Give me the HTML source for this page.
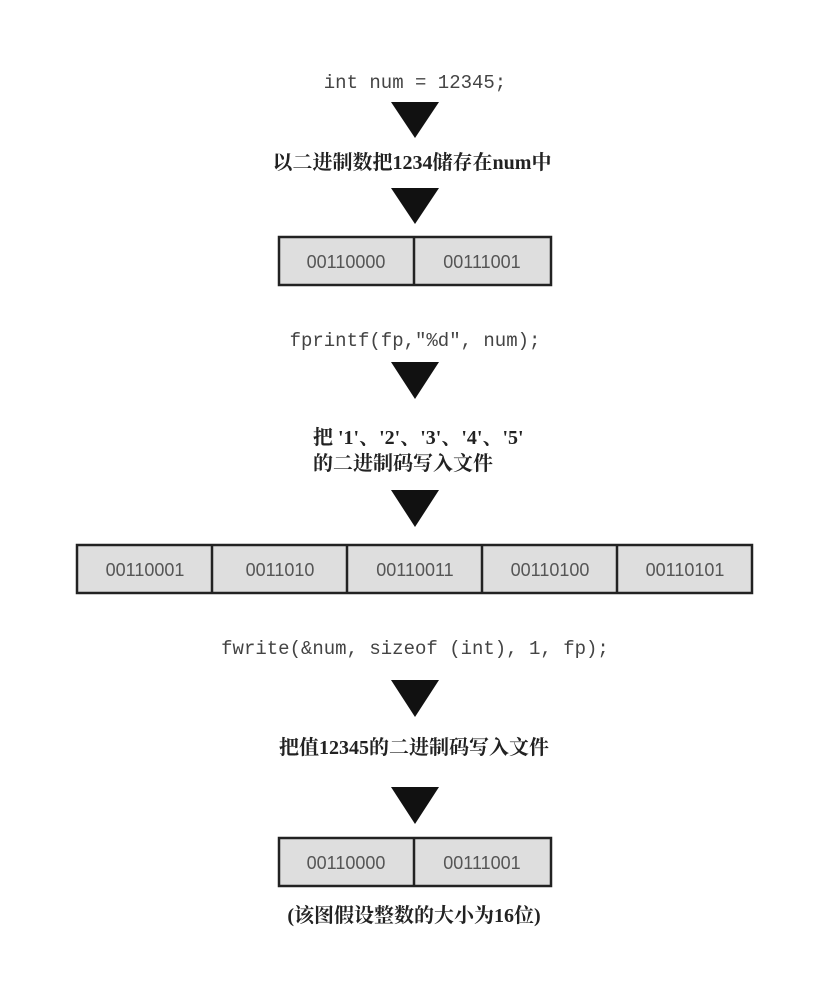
<!DOCTYPE html>
<html><head><meta charset="utf-8"><style>
html,body{margin:0;padding:0;background:#fff;}
svg{display:block;}
.m{font-family:"Liberation Mono",monospace;font-size:19px;fill:#444;}
.c{font-family:"Liberation Serif","Noto Serif CJK SC",serif;font-size:20px;font-weight:bold;fill:#222;}
.b{font-family:"Liberation Sans",sans-serif;font-size:18px;fill:#555;}
.box{fill:#dedede;stroke:#222;stroke-width:2.5;}
</style></head><body>
<svg width="823" height="990" viewBox="0 0 823 990" xmlns="http://www.w3.org/2000/svg">
<text class="m" x="415" y="88" text-anchor="middle">int num = 12345;</text>
<polygon points="391,102 439,102 415,138" fill="#111"/>
<text class="c" x="412" y="169" text-anchor="middle">以二进制数把1234储存在num中</text>
<polygon points="391,188 439,188 415,224" fill="#111"/>
<rect class="box" x="279" y="237" width="272" height="48"/>
<line x1="414" y1="237" x2="414" y2="285" stroke="#222" stroke-width="2.5"/>
<text class="b" x="346" y="268" text-anchor="middle">00110000</text>
<text class="b" x="482" y="268" text-anchor="middle">00111001</text>

<text class="m" x="415" y="346" text-anchor="middle">fprintf(fp,"%d", num);</text>
<polygon points="391,362 439,362 415,399" fill="#111"/>
<text class="c" x="313" y="444" font-size="19">把 '1'、'2'、'3'、'4'、'5'</text>
<text class="c" x="313" y="470">的二进制码写入文件</text>
<polygon points="391,490 439,490 415,527" fill="#111"/>
<rect class="box" x="77" y="545" width="675" height="48"/>
<g stroke="#222" stroke-width="2.5">
<line x1="212" y1="545" x2="212" y2="593"/>
<line x1="347" y1="545" x2="347" y2="593"/>
<line x1="482" y1="545" x2="482" y2="593"/>
<line x1="617" y1="545" x2="617" y2="593"/>
</g>
<text class="b" x="145" y="576" text-anchor="middle">00110001</text>
<text class="b" x="280" y="576" text-anchor="middle">0011010</text>
<text class="b" x="415" y="576" text-anchor="middle">00110011</text>
<text class="b" x="550" y="576" text-anchor="middle">00110100</text>
<text class="b" x="685" y="576" text-anchor="middle">00110101</text>

<text class="m" x="415" y="654" text-anchor="middle">fwrite(&amp;num, sizeof (int), 1, fp);</text>
<polygon points="391,680 439,680 415,717" fill="#111"/>
<text class="c" x="414" y="754" text-anchor="middle">把值12345的二进制码写入文件</text>
<polygon points="391,787 439,787 415,824" fill="#111"/>
<rect class="box" x="279" y="838" width="272" height="48"/>
<line x1="414" y1="838" x2="414" y2="886" stroke="#222" stroke-width="2.5"/>
<text class="b" x="346" y="869" text-anchor="middle">00110000</text>
<text class="b" x="482" y="869" text-anchor="middle">00111001</text>
<text class="c" x="414" y="922" text-anchor="middle">(该图假设整数的大小为16位)</text>
</svg>
</body></html>
